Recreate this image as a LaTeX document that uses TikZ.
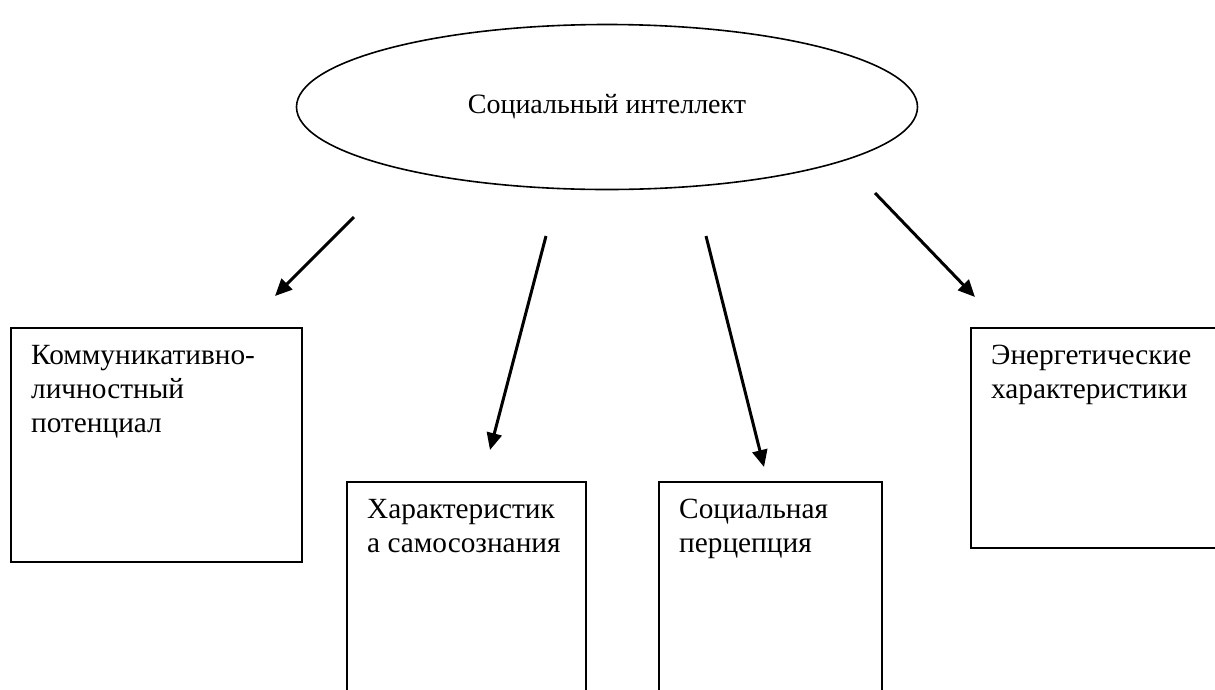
\documentclass[tikz,border=0pt]{standalone}
\usepackage{fontspec}
\setmainfont{Liberation Serif}
\usetikzlibrary{shapes.geometric,arrows.meta}

\tikzset{
  block/.style={draw, line width=2pt, rectangle, anchor=north west, inner sep=0pt},
  blocktext/.style={anchor=north west, align=left, inner xsep=21pt, inner ysep=18pt,
    font=\fontsize{29.3}{34}\selectfont},
  topic/.style={draw, ellipse, line width=1.6pt, minimum width=621pt, minimum height=165pt,
    font=\fontsize{28}{34}\selectfont},
  link/.style={line width=3pt, -{Triangle[length=17pt,width=15pt]}}
}

\begin{document}
\begin{tikzpicture}[x=1pt,y=-1pt]
\useasboundingbox (0,0) rectangle (1215,689);
\clip (0,0) rectangle (1215,689);

% central ellipse
\node[topic] (si) at (607,107) {Социальный интеллект};

% boxes
\node[block, minimum width=291pt, minimum height=234pt] (komm) at (10,327) {};
\node[block, minimum width=239pt, minimum height=260pt] (samo) at (346,481) {};
\node[block, minimum width=223pt, minimum height=260pt] (perc) at (658,481) {};
\node[block, minimum width=280pt, minimum height=220pt] (energ) at (970,327) {};

% box texts
\node[blocktext] (kommtxt) at (komm.north west) {Коммуникативно-\\личностный\\потенциал};
\node[blocktext] (samotxt) at (samo.north west) {Характеристик\\а самосознания};
\node[blocktext] (perctxt) at (perc.north west) {Социальная\\перцепция};
\node[blocktext] (energtxt) at (energ.north west) {Энергетические\\характеристики};

% arrow ends
\coordinate (s1) at (354,217);
\coordinate (e1) at (275,296);
\coordinate (s2) at (546,236);
\coordinate (e2) at (490,450);
\coordinate (s3) at (706,236);
\coordinate (e3) at (764,467);
\coordinate (s4) at (875,193);
\coordinate (e4) at (975,297);

% arrows
\draw[link] (s1) -- (e1);
\draw[link] (s2) -- (e2);
\draw[link] (s3) -- (e3);
\draw[link] (s4) -- (e4);
\end{tikzpicture}
\end{document}
